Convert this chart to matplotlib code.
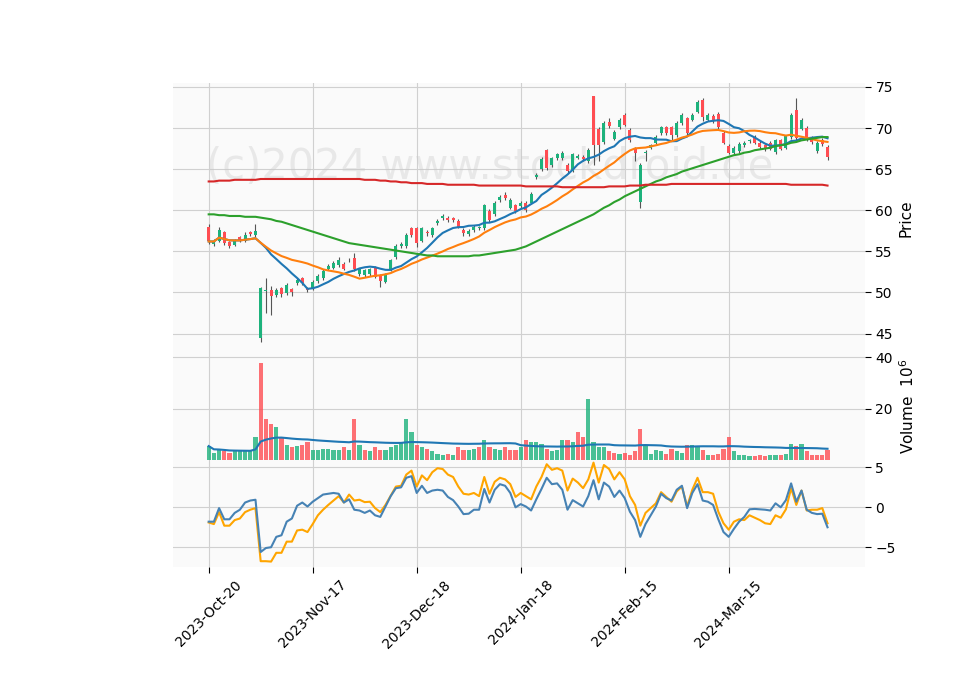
import matplotlib
matplotlib.use("Agg")
import matplotlib.pyplot as plt
import numpy as np
import pandas as pd

# daily OHLC
OPEN = [58.0, 55.9, 56.3, 57.3, 56.1, 55.8, 56.7, 56.3, 57.3, 57.0,
        44.5, 50.2, 50.3, 49.7, 50.5, 49.9, 50.4, 51.1, 51.7, 50.5,
        50.5, 51.4, 51.7, 52.9, 53.0, 53.3, 53.5, 53.9, 54.2, 52.2,
        52.1, 52.2, 53.0, 52.1, 51.3, 52.8, 54.3, 55.6, 55.6, 57.8,
        57.8, 56.3, 57.4, 57.0, 58.4, 59.0, 59.1, 59.0, 58.7, 57.6,
        57.1, 57.6, 57.8, 57.8, 59.9, 59.5, 61.2, 61.9, 60.3, 60.6,
        60.5, 60.9, 60.9, 64.0, 65.0, 67.3, 65.5, 66.3, 66.3, 65.5,
        64.8, 66.4, 66.5, 66.0, 73.9, 69.9, 68.3, 70.7, 68.7, 70.1,
        71.6, 69.8, 67.5, 61.0, 67.0, 67.6, 68.2, 69.4, 70.1, 70.1,
        69.1, 70.6, 71.2, 71.0, 72.0, 73.4, 71.0, 71.5, 71.7, 69.4,
        67.8, 67.0, 67.2, 67.9, 68.4, 68.9, 68.2, 67.9, 68.2, 67.1,
        68.5, 67.6, 68.9, 72.2, 69.9, 70.0, 68.8, 67.2, 68.6, 67.7]
CLOSE = [56.2, 56.2, 57.6, 56.0, 55.7, 56.3, 56.3, 57.0, 57.1, 57.5,
         50.6, 50.2, 49.6, 50.3, 49.8, 50.9, 50.1, 51.5, 51.1, 50.3,
         51.3, 52.0, 52.6, 53.2, 53.6, 54.0, 52.9, 54.0, 52.8, 52.8,
         52.7, 52.8, 51.9, 51.4, 52.2, 53.9, 55.7, 55.9, 57.0, 57.0,
         56.0, 57.8, 57.2, 57.8, 58.7, 59.3, 58.8, 58.8, 58.0, 57.2,
         57.5, 58.0, 57.9, 60.6, 58.8, 60.9, 61.6, 61.5, 61.3, 59.9,
         60.9, 60.0, 62.0, 64.3, 66.2, 65.1, 66.3, 66.8, 67.0, 64.8,
         66.8, 66.6, 66.2, 67.3, 67.9, 67.9, 70.6, 70.2, 69.5, 71.0,
         70.4, 68.5, 67.0, 65.5, 67.1, 67.9, 68.9, 70.1, 69.4, 69.1,
         70.6, 71.6, 69.4, 71.6, 73.2, 71.3, 71.6, 71.0, 70.1, 68.2,
         67.0, 67.6, 68.1, 68.2, 68.5, 68.2, 67.7, 67.4, 67.5, 68.5,
         67.5, 69.0, 71.6, 68.8, 71.0, 68.6, 68.3, 68.2, 68.0, 66.5]
HIGH = [58.3, 56.5, 57.9, 57.5, 56.3, 56.5, 56.9, 57.3, 57.5, 58.3,
        50.7, 51.8, 50.8, 50.6, 50.7, 51.1, 50.6, 51.8, 51.9, 50.7,
        51.5, 52.2, 52.9, 53.4, 53.8, 54.3, 53.7, 54.2, 54.8, 53.0,
        52.9, 53.0, 53.2, 52.3, 52.4, 54.1, 55.9, 56.1, 57.2, 58.0,
        58.0, 58.0, 57.6, 58.0, 58.9, 59.5, 59.3, 59.2, 58.9, 57.8,
        57.7, 58.2, 58.1, 60.8, 60.1, 61.1, 61.8, 62.2, 61.5, 60.8,
        61.1, 61.1, 62.2, 64.5, 66.5, 67.5, 66.5, 67.0, 67.2, 65.7,
        67.0, 66.8, 66.7, 67.6, 73.9, 70.1, 70.9, 71.2, 69.7, 71.2,
        71.8, 70.0, 67.7, 65.7, 67.3, 68.1, 69.1, 70.3, 70.3, 70.3,
        70.8, 71.8, 71.4, 71.8, 73.4, 73.6, 71.8, 71.7, 71.9, 69.6,
        68.0, 67.8, 68.3, 68.4, 68.7, 69.1, 68.4, 68.1, 68.4, 68.7,
        68.7, 69.2, 71.8, 73.7, 71.2, 70.2, 69.0, 68.4, 68.8, 67.9]
LOW = [55.9, 55.6, 56.1, 55.8, 55.4, 55.6, 56.1, 56.1, 56.9, 56.8,
       44.0, 47.5, 47.2, 49.4, 49.5, 49.7, 49.6, 50.9, 50.9, 50.1,
       50.3, 51.2, 51.5, 52.7, 52.8, 53.1, 52.7, 53.7, 52.6, 52.0,
       51.9, 52.0, 51.7, 50.7, 51.1, 52.6, 54.1, 55.4, 55.4, 56.8,
       55.5, 56.1, 56.9, 56.8, 58.2, 58.8, 58.6, 58.6, 57.8, 56.9,
       56.9, 57.4, 57.6, 57.6, 58.6, 59.3, 61.0, 61.3, 60.1, 59.7,
       60.3, 59.8, 60.7, 63.8, 64.8, 64.9, 65.3, 66.1, 66.1, 64.5,
       64.6, 66.2, 66.0, 65.8, 65.5, 66.0, 68.1, 70.0, 68.5, 69.9,
       70.2, 68.3, 66.0, 60.3, 66.0, 67.4, 68.0, 69.2, 69.2, 68.4,
       68.9, 70.4, 69.2, 70.8, 71.8, 70.8, 70.8, 70.6, 69.9, 68.0,
       66.8, 66.8, 67.0, 67.7, 68.2, 68.0, 67.5, 67.2, 67.3, 66.9,
       67.3, 67.4, 68.7, 68.6, 69.7, 68.4, 68.1, 67.0, 67.8, 66.1]
VOLUME = [5.5, 3.0, 4.0, 3.5, 3.0, 3.5, 3.5, 3.5, 3.5, 9.0,
          38.0, 16.0, 14.0, 13.0, 9.0, 6.0, 5.0, 5.5, 6.0, 7.0,
          4.0, 4.0, 4.5, 4.5, 4.0, 4.0, 5.0, 4.0, 16.0, 6.0,
          4.0, 3.5, 5.0, 4.0, 4.0, 5.0, 6.0, 7.0, 16.0, 11.0,
          6.0, 5.0, 4.5, 3.5, 2.5, 2.0, 2.5, 2.0, 5.0, 4.0,
          4.0, 4.5, 5.0, 8.0, 5.0, 4.5, 4.0, 5.0, 4.0, 4.0,
          5.0, 8.0, 7.0, 7.0, 6.5, 4.5, 3.5, 4.0, 8.0, 8.0,
          7.0, 11.0, 9.0, 24.0, 7.0, 5.0, 5.0, 3.5, 3.0, 2.5,
          3.0, 2.0, 3.5, 12.0, 6.0, 2.5, 4.0, 3.5, 2.5, 4.5,
          3.5, 3.0, 6.0, 6.0, 5.5, 4.0, 2.0, 2.0, 2.5, 4.5,
          9.0, 3.5, 2.0, 2.0, 1.5, 1.5, 2.0, 1.5, 2.0, 2.0,
          2.0, 2.5, 6.5, 5.5, 6.5, 3.5, 2.0, 2.0, 2.0, 4.0]
# long moving averages (history before the window is not in the data)
MA50 = [59.5, 59.5, 59.4, 59.4, 59.3, 59.3, 59.3, 59.2, 59.2, 59.2,
        59.1, 59.0, 58.9, 58.7, 58.6, 58.4, 58.2, 58.0, 57.8, 57.6,
        57.4, 57.2, 57.0, 56.8, 56.6, 56.4, 56.2, 56.0, 55.9, 55.8,
        55.7, 55.6, 55.5, 55.4, 55.3, 55.2, 55.1, 55.0, 54.9, 54.8,
        54.7, 54.6, 54.5, 54.5, 54.4, 54.4, 54.4, 54.4, 54.4, 54.4,
        54.4, 54.5, 54.5, 54.6, 54.7, 54.8, 54.9, 55.0, 55.1, 55.2,
        55.4, 55.6, 55.9, 56.2, 56.5, 56.8, 57.1, 57.4, 57.7, 58.0,
        58.3, 58.6, 58.9, 59.2, 59.5, 59.9, 60.3, 60.6, 61.0, 61.3,
        61.7, 62.0, 62.3, 62.6, 62.9, 63.2, 63.5, 63.7, 64.0, 64.2,
        64.4, 64.7, 64.9, 65.1, 65.3, 65.5, 65.7, 65.9, 66.1, 66.3,
        66.5, 66.7, 66.8, 67.0, 67.1, 67.3, 67.4, 67.5, 67.6, 67.8,
        67.9, 68.0, 68.2, 68.3, 68.5, 68.6, 68.7, 68.8, 68.9, 68.9]
MA200 = [63.5, 63.5, 63.6, 63.6, 63.6, 63.7, 63.7, 63.7, 63.7, 63.7,
         63.8, 63.8, 63.8, 63.8, 63.8, 63.8, 63.8, 63.8, 63.8, 63.8,
         63.8, 63.8, 63.8, 63.8, 63.8, 63.8, 63.8, 63.8, 63.8, 63.8,
         63.7, 63.7, 63.7, 63.6, 63.6, 63.5, 63.5, 63.4, 63.4, 63.3,
         63.3, 63.3, 63.2, 63.2, 63.2, 63.2, 63.1, 63.1, 63.1, 63.1,
         63.1, 63.1, 63.0, 63.0, 63.0, 63.0, 63.0, 63.0, 63.0, 63.0,
         63.0, 62.9, 62.9, 62.9, 62.9, 62.9, 62.9, 62.9, 62.8, 62.8,
         62.8, 62.8, 62.8, 62.8, 62.8, 62.8, 62.8, 62.9, 62.9, 62.9,
         62.9, 63.0, 63.0, 63.0, 63.1, 63.1, 63.1, 63.1, 63.1, 63.2,
         63.2, 63.2, 63.2, 63.2, 63.2, 63.2, 63.2, 63.2, 63.2, 63.2,
         63.2, 63.2, 63.2, 63.2, 63.2, 63.2, 63.2, 63.2, 63.2, 63.2,
         63.2, 63.2, 63.1, 63.1, 63.1, 63.1, 63.1, 63.1, 63.1, 63.0]
MACD_BLUE = [-1.8, -1.8, -0.1, -1.5, -1.5, -0.7, -0.3, 0.6, 0.85, 0.95,
             -5.6, -5.1, -5.0, -3.7, -3.5, -1.8, -1.4, 0.2, 0.6, 0.1,
             0.7, 1.15, 1.6, 1.7, 1.8, 1.7, 0.6, 1.0, -0.3, -0.4,
             -0.7, -0.4, -1.0, -1.2, 0.1, 1.4, 2.4, 2.5, 3.7, 3.9,
             1.8, 2.7, 1.8, 2.1, 2.2, 2.1, 1.3, 0.9, 0.1, -0.85,
             -0.8, -0.3, -0.3, 2.3, 0.6, 2.2, 2.9, 2.7, 1.8, 0.0,
             0.4, 0.1, -0.4, 1.0, 2.3, 3.7, 2.9, 3.0, 2.2, -0.3,
             0.9, 0.5, 0.1, 1.4, 3.4, 1.0, 3.1, 2.6, 1.3, 2.1,
             1.15, -0.55, -1.6, -3.7, -2.1, -1.0, 0.1, 1.7, 1.15, 0.85,
             2.2, 2.7, -0.1, 1.8, 2.9, 0.85, 0.7, 0.3, -1.5, -3.1,
             -3.7, -2.7, -1.8, -1.2, -0.25, -0.2, -0.25, -0.3, -0.4, 0.5,
             0.0, 0.9, 3.0, 0.7, 2.1, -0.3, -0.7, -0.85, -0.8, -2.5]
MACD_ORANGE = [-1.9, -2.1, -0.6, -2.3, -2.3, -1.6, -1.4, -0.6, -0.3, -0.1,
               -6.75, -6.75, -6.8, -5.7, -5.7, -4.3, -4.3, -2.9, -2.8, -3.1,
               -2.1, -1.0, -0.3, 0.3, 0.85, 1.4, 0.6, 1.6, 0.85, 0.95,
               0.65, 0.7, -0.1, -0.6, 0.3, 1.45, 2.6, 2.7, 4.1, 4.6,
               2.6, 4.0, 3.4, 4.4, 4.9, 4.8, 4.1, 3.8, 2.6, 1.7,
               1.6, 1.8, 1.4, 3.8, 1.7, 3.2, 3.7, 3.5, 2.9, 1.3,
               1.8, 1.4, 1.0, 2.6, 3.8, 5.4, 4.7, 4.9, 4.6, 2.1,
               3.6, 3.1, 2.4, 3.5, 5.6, 3.1, 5.3, 4.8, 3.5, 4.4,
               3.5, 1.4, 0.3, -2.3, -0.7, -0.1, 0.5, 1.9, 1.3, 0.7,
               2.0, 2.6, 0.1, 2.2, 3.7, 1.9, 1.9, 1.7, -0.55, -2.0,
               -2.8, -1.8, -1.5, -1.6, -1.0, -1.3, -1.6, -2.0, -2.1, -1.0,
               -1.3, -0.25, 2.4, 0.3, 2.1, -0.4, -0.3, -0.3, -0.1, -2.0]
TICK_POS = [0, 20, 40, 60, 80, 100]
TICK_LABELS = ["2023-Oct-20", "2023-Nov-17", "2023-Dec-18",
               "2024-Jan-18", "2024-Feb-15", "2024-Mar-15"]

UP = "#1db27c"
DOWN = "#ff4d52"
BG = "#fafafa"
GRID = "#d0d0d0"

df = pd.DataFrame({"o": OPEN, "h": HIGH, "l": LOW, "c": CLOSE, "v": VOLUME})
x = np.arange(len(df))
ma10 = df["c"].rolling(10, min_periods=1).mean()
ma20 = df["c"].rolling(20, min_periods=1).mean()
vol_ma = df["v"].rolling(50, min_periods=1).mean()

fig = plt.figure(figsize=(9.6, 6.9), dpi=100)
L, W = 0.18, 0.721
ax_p = fig.add_axes([L, 0.488, W, 0.392])
ax_v = fig.add_axes([L, 0.333, W, 0.155], sharex=ax_p)
ax_m = fig.add_axes([L, 0.178, W, 0.155], sharex=ax_p)

for ax in (ax_p, ax_v, ax_m):
    ax.set_facecolor(BG)
    ax.grid(True, color=GRID, linewidth=0.8)
    ax.set_axisbelow(True)
    for s in ax.spines.values():
        s.set_visible(False)
    ax.yaxis.tick_right()
    ax.yaxis.set_label_position("right")
    ax.tick_params(length=4, colors="black", labelsize=10)

# candles
up = df["c"] >= df["o"]
colors = np.where(up, UP, DOWN)
ax_p.vlines(x, df["l"], df["h"], color="#555555", linewidth=0.8, zorder=2)
ax_p.bar(x, (df["c"] - df["o"]).abs().clip(lower=0.08), bottom=np.minimum(df["o"], df["c"]),
         width=0.6, color=colors, zorder=3)
ax_p.plot(x, ma10, color="#1f77b4", lw=1.5, zorder=4)
ax_p.plot(x, ma20, color="#ff7f0e", lw=1.5, zorder=4)
ax_p.plot(x, MA50, color="#2ca02c", lw=1.5, zorder=4)
ax_p.plot(x, MA200, color="#d62728", lw=1.5, zorder=4)
ax_p.set_ylim(42.6, 75.5)
ax_p.set_yticks([45, 50, 55, 60, 65, 70, 75])
ax_p.set_ylabel("Price", fontsize=11)
ax_p.text(0.458, 0.69, "(c)2024 www.stockdroid.de", transform=ax_p.transAxes,
          ha="center", va="center", fontsize=30, color="#c8c8c8", alpha=0.35, zorder=1)

# volume, coloured by close-to-close change
vcol = [UP if i == 0 or CLOSE[i] >= CLOSE[i - 1] else DOWN for i in x]
ax_v.bar(x, VOLUME, width=0.8, color=vcol, alpha=0.8, zorder=2)
ax_v.plot(x, vol_ma, color="#1f77b4", lw=1.5, zorder=3)
ax_v.set_ylim(0, 41.6)
ax_v.set_yticks([20, 40])
ax_v.set_ylabel("Volume  $10^{6}$", fontsize=11)

# oscillator
ax_m.plot(x, MACD_ORANGE, color="#ffa500", lw=1.5)
ax_m.plot(x, MACD_BLUE, color="#4682b4", lw=1.5)
ax_m.set_ylim(-7.5, 5.9)
ax_m.set_yticks([-5, 0, 5])

ax_m.set_xlim(-6.9, 126.2)
ax_m.set_xticks(TICK_POS)
ax_m.set_xticklabels(TICK_LABELS, rotation=45, ha="center")
plt.setp(ax_p.get_xticklabels(), visible=False)
plt.setp(ax_v.get_xticklabels(), visible=False)
ax_p.tick_params(axis="x", length=0)
ax_v.tick_params(axis="x", length=0)

fig.savefig("out.png", dpi=100)
